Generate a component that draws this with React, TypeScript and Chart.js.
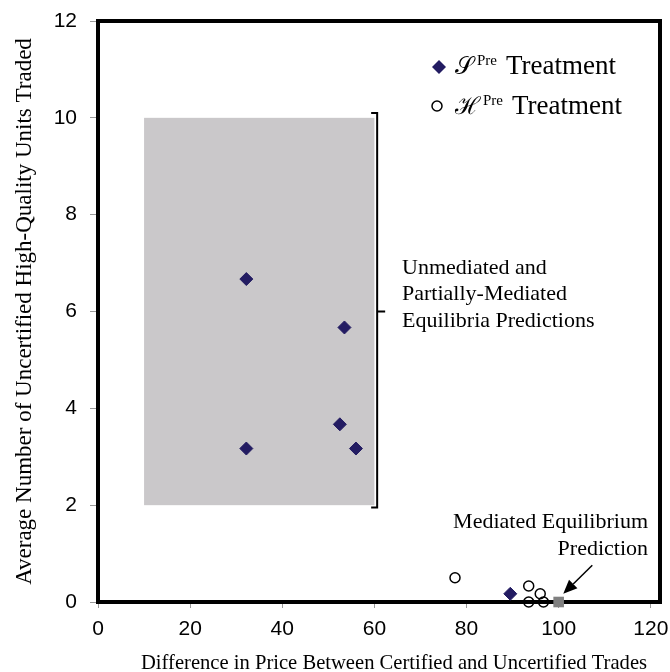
import { useEffect, useRef } from 'react';
import { Chart, registerables } from 'chart.js';
Chart.register(...registerables);

// ---- data ----
const sPreX = [32.2, 53.5, 52.5, 32.2, 56, 89.5];
const sPreY = [6.67, 5.67, 3.67, 3.17, 3.17, 0.17];
const hPreX = [77.5, 93.5, 96, 93.5, 96.7];
const hPreY = [0.5, 0.33, 0.17, 0, 0];
const mediatedX = [100];
const mediatedY = [0];
const regionX = [10, 60];
const regionY = [2, 10];
const bracketX = [60.6];
const bracketY = [1.95, 6, 10.1];
const arrowFrom = [107.3, 0.76];
const arrowTo = [101, 0.17];
const xRange = [0, 122];
const yRange = [0, 12];
const xStep = 20;
const yStep = 2;
const legendScripts = ['𝒮', 'ℋ'];
const legendSup = 'Pre';
const legendWord = 'Treatment';
const unmediatedLines = ['Unmediated and', 'Partially-Mediated', 'Equilibria Predictions'];
const unmediatedAnchor = [66, 6.9];
const mediatedLines = ['Mediated Equilibrium', 'Prediction'];
const mediatedAnchor = [119.4, 1.64];
const xTitle = 'Difference in Price Between Certified and Uncertified Trades';
const yTitle = 'Average Number of Uncertified High-Quality Units Traded';

const NAVY = '#231c62';
const SERIF = '"Liberation Serif", "Times New Roman", serif';
const SANS = '"Liberation Sans", Arial, sans-serif';

const decorPlugin = {
  id: 'decor',
  beforeDatasetsDraw(chart: any) {
    const { ctx, chartArea: a, scales } = chart;
    const x = scales.x, y = scales.y;
    ctx.save();
    // shaded region
    const rx0 = x.getPixelForValue(regionX[0]);
    const rx1 = x.getPixelForValue(regionX[1]);
    const ry0 = y.getPixelForValue(regionY[1]);
    const ry1 = y.getPixelForValue(regionY[0]);
    ctx.fillStyle = '#cac8ca';
    ctx.fillRect(rx0, ry0, rx1 - rx0, ry1 - ry0);
    // bracket
    const bx = x.getPixelForValue(bracketX[0]);
    const bb = y.getPixelForValue(bracketY[0]);
    const bm = y.getPixelForValue(bracketY[1]);
    const bt = y.getPixelForValue(bracketY[2]);
    ctx.strokeStyle = '#000';
    ctx.lineWidth = 2;
    ctx.beginPath();
    ctx.moveTo(bx - 6, bt);
    ctx.lineTo(bx, bt);
    ctx.lineTo(bx, bb);
    ctx.lineTo(bx - 6, bb);
    ctx.moveTo(bx, bm);
    ctx.lineTo(bx + 8, bm);
    ctx.stroke();
    // frame
    ctx.lineWidth = 4;
    ctx.strokeStyle = '#000';
    ctx.strokeRect(a.left, a.top, a.right - a.left, a.bottom - a.top);
    ctx.restore();
  },
  afterDraw(chart: any) {
    const { ctx, chartArea: a, scales } = chart;
    const x = scales.x, y = scales.y;
    ctx.save();
    ctx.fillStyle = '#000';
    // annotations
    ctx.font = '22px ' + SERIF;
    ctx.textBaseline = 'middle';
    ctx.textAlign = 'left';
    const ux = x.getPixelForValue(unmediatedAnchor[0]);
    const uy = y.getPixelForValue(unmediatedAnchor[1]);
    unmediatedLines.forEach((t, i) => ctx.fillText(t, ux, uy + i * 26.5));
    ctx.textAlign = 'right';
    const mx = x.getPixelForValue(mediatedAnchor[0]);
    const my = y.getPixelForValue(mediatedAnchor[1]);
    mediatedLines.forEach((t, i) => ctx.fillText(t, mx, my + i * 26.5));
    // arrow
    const ax0 = x.getPixelForValue(arrowFrom[0]);
    const ay0 = y.getPixelForValue(arrowFrom[1]);
    const ax1 = x.getPixelForValue(arrowTo[0]);
    const ay1 = y.getPixelForValue(arrowTo[1]);
    const ang = Math.atan2(ay1 - ay0, ax1 - ax0);
    const hl = 14, hw = 6;
    const bxp = ax1 - hl * Math.cos(ang), byp = ay1 - hl * Math.sin(ang);
    ctx.strokeStyle = '#000';
    ctx.lineWidth = 1.5;
    ctx.beginPath();
    ctx.moveTo(ax0, ay0);
    ctx.lineTo(bxp, byp);
    ctx.stroke();
    ctx.beginPath();
    ctx.moveTo(ax1, ay1);
    ctx.lineTo(bxp + hw * Math.sin(ang), byp - hw * Math.cos(ang));
    ctx.lineTo(bxp - hw * Math.sin(ang), byp + hw * Math.cos(ang));
    ctx.closePath();
    ctx.fill();
    // x title
    ctx.font = '20.6px ' + SERIF;
    ctx.textAlign = 'center';
    ctx.textBaseline = 'middle';
    ctx.fillText(xTitle, (a.left + a.right) / 2 + 15, 664);
    // legend
    const rows = [
      { mx: 439, my: 67, base: 74 },
      { mx: 437, my: 106, base: 114 },
    ];
    rows.forEach((r, i) => {
      if (i === 0) {
        ctx.fillStyle = NAVY;
        ctx.beginPath();
        ctx.moveTo(r.mx, r.my - 7);
        ctx.lineTo(r.mx + 7, r.my);
        ctx.lineTo(r.mx, r.my + 7);
        ctx.lineTo(r.mx - 7, r.my);
        ctx.closePath();
        ctx.fill();
      } else {
        ctx.strokeStyle = '#000';
        ctx.lineWidth = 1.5;
        ctx.beginPath();
        ctx.arc(r.mx, r.my, 5, 0, Math.PI * 2);
        ctx.stroke();
      }
      ctx.fillStyle = '#000';
      ctx.textAlign = 'left';
      ctx.textBaseline = 'alphabetic';
      let tx = 455;
      ctx.font = '24px ' + SERIF;
      ctx.fillText(legendScripts[i], tx, r.base);
      tx += ctx.measureText(legendScripts[i]).width + 3;
      ctx.font = '15px ' + SERIF;
      ctx.fillText(legendSup, tx, r.base - 9);
      tx += ctx.measureText(legendSup).width + 9;
      ctx.font = '27px ' + SERIF;
      ctx.fillText(legendWord, tx, r.base);
    });
    ctx.restore();
  },
};

export default function App() {
  const ref = useRef<HTMLCanvasElement>(null);
  useEffect(() => {
    if (!ref.current) return;
    const chart = new Chart(ref.current, {
      type: 'scatter',
      data: {
        datasets: [
          {
            label: 'S Pre Treatment',
            data: sPreX.map((v, i) => ({ x: v, y: sPreY[i] })),
            pointStyle: 'rectRot',
            pointRadius: 6.5,
            backgroundColor: NAVY,
            borderColor: NAVY,
            borderWidth: 1,
            clip: false,
          },
          {
            label: 'H Pre Treatment',
            data: hPreX.map((v, i) => ({ x: v, y: hPreY[i] })),
            pointStyle: 'circle',
            pointRadius: 5,
            backgroundColor: 'rgba(0,0,0,0)',
            borderColor: '#000',
            borderWidth: 1.5,
            clip: false,
          },
          {
            label: 'Mediated Equilibrium Prediction',
            data: mediatedX.map((v, i) => ({ x: v, y: mediatedY[i] })),
            pointStyle: 'rect',
            pointRadius: 7.5,
            backgroundColor: '#808080',
            borderColor: '#808080',
            borderWidth: 0,
            clip: false,
          },
        ] as any,
      },
      options: {
        animation: false,
        responsive: false,
        events: [],
        layout: { padding: { top: 21, right: 10, bottom: 0, left: 0 } },
        plugins: { legend: { display: false }, tooltip: { enabled: false } },
        scales: {
          x: {
            type: 'linear',
            min: xRange[0],
            max: xRange[1],
            ticks: {
              stepSize: xStep,
              includeBounds: false,
              color: '#000',
              font: { family: SANS, size: 21 },
              padding: 9,
              maxRotation: 0,
            },
            grid: { drawOnChartArea: false, tickLength: 6, color: '#999' },
            border: { display: false },
            afterFit(s: any) {
              s.height = 70;
              s.paddingLeft = 0;
              s.paddingRight = 0;
            },
          },
          y: {
            type: 'linear',
            min: yRange[0],
            max: yRange[1],
            ticks: {
              stepSize: yStep,
              color: '#000',
              font: { family: SANS, size: 21 },
              padding: 13,
            },
            grid: { drawOnChartArea: false, tickLength: 8, color: '#999' },
            border: { display: false },
            title: {
              display: true,
              text: yTitle,
              color: '#000',
              font: { family: SERIF, size: 23 },
              padding: { top: 11, bottom: 0 },
            },
            afterFit(s: any) {
              s.width = 98;
              s.paddingTop = 0;
              s.paddingBottom = 0;
            },
          },
        },
      } as any,
      plugins: [decorPlugin],
    });
    return () => chart.destroy();
  }, []);
  return (
    <div style={{ position: 'absolute', left: 0, top: 0, width: 670, height: 672 }}>
      <canvas ref={ref} width={670} height={672} />
    </div>
  );
}
